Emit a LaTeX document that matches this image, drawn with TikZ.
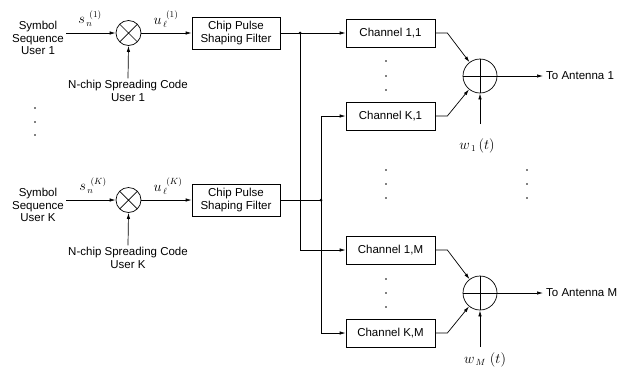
\documentclass[tikz,border=0pt]{standalone}
\usepackage[no-math]{fontspec}
\setmainfont{Liberation Sans}
\usetikzlibrary{arrows.meta}

\begin{document}
\begin{tikzpicture}[x=1bp,y=-1bp,
  every node/.style={font=\fontsize{11.5bp}{12.5bp}\selectfont},
  line/.style={line width=0.7bp},
  arr/.style={line, -{Latex[length=6bp,width=3.4bp]}},
  txt/.style={align=center, inner sep=2bp},
  block/.style={draw, line width=0.7bp, minimum height=32bp, minimum width=88bp, align=center, inner sep=1bp},
  chan/.style={draw, line width=0.7bp, minimum height=28bp, minimum width=89bp, inner sep=1bp},
  mulnode/.style={circle, draw, line width=0.7bp, minimum size=25bp, inner sep=0pt,
    path picture={\draw[line width=0.7bp]
      (path picture bounding box.north west) -- (path picture bounding box.south east)
      (path picture bounding box.north east) -- (path picture bounding box.south west);}},
  sumnode/.style={circle, draw, line width=0.7bp, minimum size=34bp, inner sep=0pt,
    path picture={\draw[line width=0.7bp]
      (path picture bounding box.north) -- (path picture bounding box.south)
      (path picture bounding box.west) -- (path picture bounding box.east);}},
  junc/.style={circle, fill, inner sep=0pt, minimum size=3bp},
  vdot/.style={circle, fill, inner sep=0pt, minimum size=1.8bp},
  mathlbl/.style={inner sep=0.5bp, font=\fontsize{13.5bp}{14bp}\selectfont}
]
\useasboundingbox (0,0) rectangle (630,367);

% ---- user 1 ----
\node[txt] (src1) at (38,38) {Symbol\\Sequence\\User 1};
\node[mulnode] (mul1) at (128.5,33) {};
\node[txt] (code1) at (128,91) {N-chip Spreading Code\\User 1};
\node[block] (psf1) at (236,33) {Chip Pulse\\Shaping Filter};
\node[mathlbl] (s1) at (90,19) {$s_{\,n}^{\,\,\,(1)}$};
\node[mathlbl] (u1) at (166,19) {$u_{\,\ell}^{\,\,\,(1)}$};

% ---- user K ----
\node[txt] (srcK) at (38,205) {Symbol\\Sequence\\User K};
\node[mulnode] (mulK) at (128.5,200) {};
\node[txt] (codeK) at (128,258) {N-chip Spreading Code\\User K};
\node[block] (psfK) at (236,200) {Chip Pulse\\Shaping Filter};
\node[mathlbl] (sK) at (93,186) {$s_{\,n}^{\,\,\,(K)}$};
\node[mathlbl] (uK) at (168,186) {$u_{\,\ell}^{\,\,\,(K)}$};

% ---- channels ----
\node[chan] (ch11) at (390.5,33) {Channel 1,1};
\node[chan] (chK1) at (390.5,116) {Channel K,1};
\node[chan] (ch1M) at (390.5,250) {Channel 1,M};
\node[chan] (chKM) at (390.5,333) {Channel K,M};

% ---- summing nodes and outputs ----
\node[sumnode] (sum1) at (480,76) {};
\node[sumnode] (sumM) at (480,293) {};
\node[mathlbl] (w1) at (477,146) {$w_{\,1}\,(t)$};
\node[mathlbl] (wM) at (485,360) {$w_{\,M}\;(t)$};
\coordinate (w1in) at (480,124);
\coordinate (wMin) at (480,347);
\node[anchor=west, inner sep=3bp] (ant1) at (543,76) {To Antenna 1};
\node[anchor=west, inner sep=3bp] (antM) at (543,293) {To Antenna M};

% ---- junctions ----
\node[junc] (j1) at (300,33) {};
\node[junc] (jK) at (321,200) {};

% ---- connectors: user branches ----
\draw[arr] (src1.east |- mul1) -- (mul1.west);
\draw[arr] (mul1.east) -- (psf1.west);
\draw[arr] (code1.north) -- (mul1.south);
\draw[arr] (srcK.east |- mulK) -- (mulK.west);
\draw[arr] (mulK.east) -- (psfK.west);
\draw[arr] (codeK.north) -- (mulK.south);

% ---- distribution to channels ----
\draw[line] (psf1.east) -- (j1.center);
\draw[arr] (j1.center) -- (ch11.west);
\draw[arr] (j1.center) |- (ch1M.west);
\draw[line] (psfK.east) -- (jK.center);
\draw[arr] (jK.center) |- (chK1.west);
\draw[arr] (jK.center) |- (chKM.west);

% ---- channels into summing nodes ----
\draw[arr] (ch11.east) -- ++(12,0) -- (sum1);
\draw[arr] (chK1.east) -- ++(12,0) -- (sum1);
\draw[arr] (ch1M.east) -- ++(12,0) -- (sumM);
\draw[arr] (chKM.east) -- ++(12,0) -- (sumM);
\draw[arr] (w1in) -- (sum1.south);
\draw[arr] (wMin) -- (sumM.south);
\draw[arr] (sum1.east) -- (ant1.west);
\draw[arr] (sumM.east) -- (antM.west);

% ---- ellipsis dots ----
\foreach \y in {108,122,135} \node[vdot] at (35,\y) {};
\foreach \y in {61,76,90} \node[vdot] at (386,\y) {};
\foreach \y in {279,293,307} \node[vdot] at (386,\y) {};
\foreach \y in {170,184,198} {
  \node[vdot] at (386,\y) {};
  \node[vdot] at (527,\y) {};
}
\end{tikzpicture}
\end{document}
